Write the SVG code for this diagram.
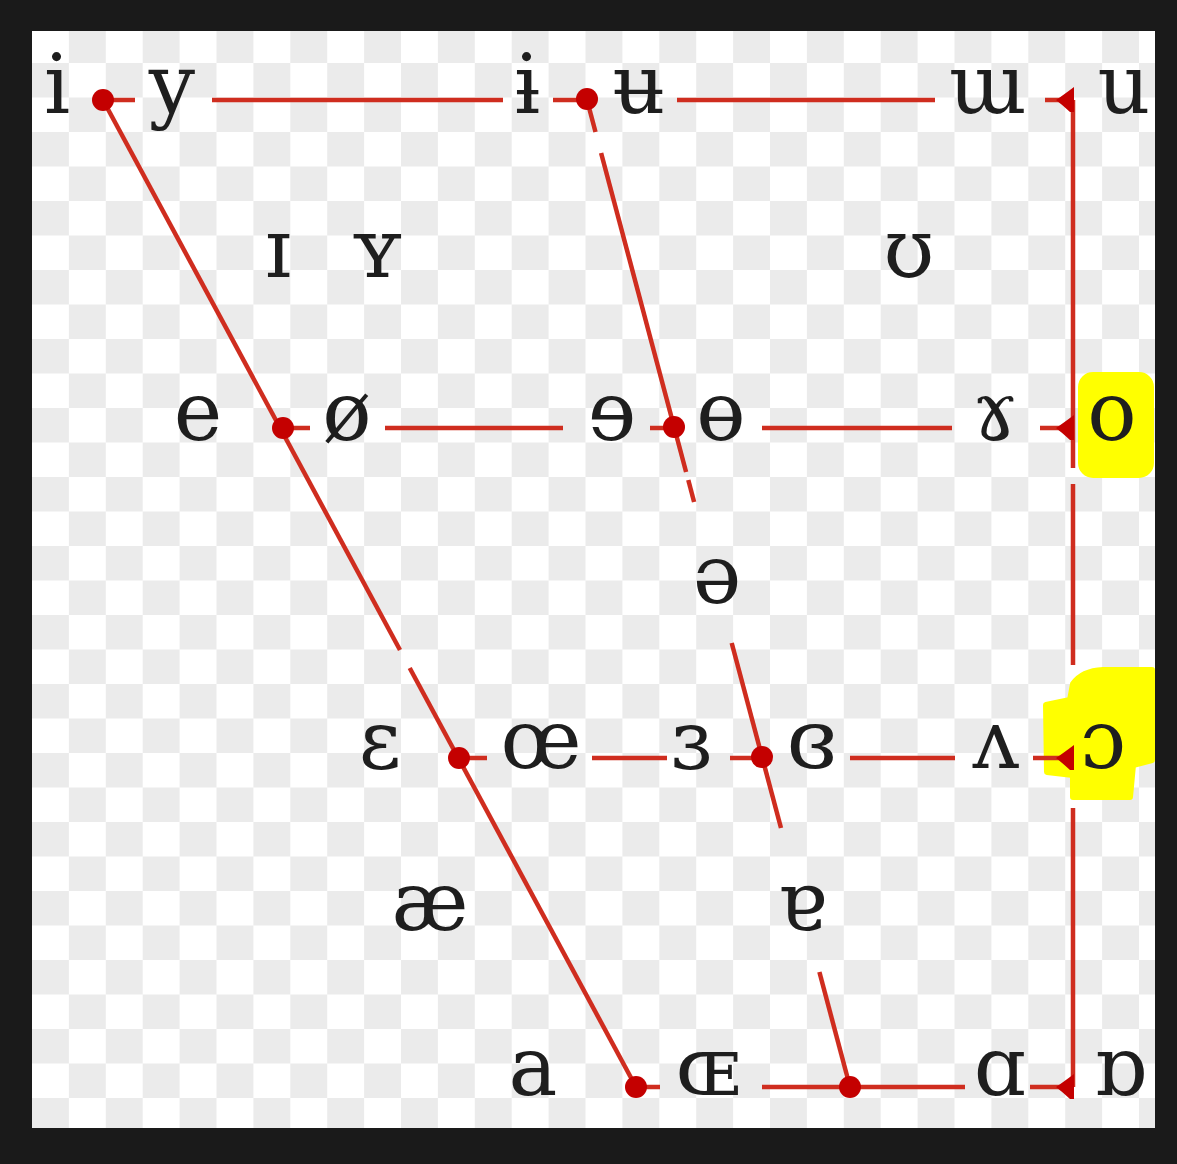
<svg xmlns="http://www.w3.org/2000/svg" width="1177" height="1164" viewBox="0 0 1177 1164">
<defs>
<pattern id="chk" patternUnits="userSpaceOnUse" x="32" y="-6" width="73.8" height="69">
<rect x="0" y="0" width="73.8" height="69" fill="#ffffff"/>
<rect x="0" y="0" width="36.9" height="34.5" fill="#ebebeb"/>
<rect x="36.9" y="34.5" width="36.9" height="34.5" fill="#ebebeb"/>
</pattern>
<style>
.v{font-family:"DejaVu Serif","Liberation Serif",serif;font-size:82px;fill:#1e1e1e;text-anchor:middle}
.ln{stroke:#cf2d1f;stroke-width:4.5;fill:none;stroke-linecap:butt}
.dot{fill:#c40000}
.hl{fill:#ffff00;stroke:#ffff00;stroke-width:6;stroke-linejoin:round}
</style>
</defs>
<rect x="0" y="0" width="1177" height="1164" fill="#1a1a1a"/>
<rect x="32" y="31" width="1123" height="1097" fill="url(#chk)"/>
<g id="highlights">
<rect class="hl" x="1081" y="375" width="70" height="100" rx="12"/>
<path class="hl" d="M1103,670 L1152,670 L1152,760 L1133,765 L1130,797 L1073,797 L1073,775 L1047,772 L1046,705 L1070,700 L1073,684 Q1082,671 1103,670 Z"/>
</g>
<g id="connectors">
<line class="ln" x1="103" y1="100" x2="135" y2="100"/>
<line class="ln" x1="212" y1="100" x2="503" y2="100"/>
<line class="ln" x1="553" y1="100" x2="587" y2="100"/>
<line class="ln" x1="677" y1="100" x2="935" y2="100"/>
<line class="ln" x1="1045" y1="100" x2="1073" y2="100"/>
<line class="ln" x1="283" y1="428" x2="310" y2="428"/>
<line class="ln" x1="385" y1="428" x2="563" y2="428"/>
<line class="ln" x1="650" y1="428" x2="674" y2="428"/>
<line class="ln" x1="762" y1="428" x2="952" y2="428"/>
<line class="ln" x1="1040" y1="428" x2="1073" y2="428"/>
<line class="ln" x1="459" y1="758" x2="487" y2="758"/>
<line class="ln" x1="592" y1="758" x2="667" y2="758"/>
<line class="ln" x1="730" y1="758" x2="762" y2="758"/>
<line class="ln" x1="850" y1="758" x2="955" y2="758"/>
<line class="ln" x1="1033" y1="758" x2="1073" y2="758"/>
<line class="ln" x1="636" y1="1087" x2="660" y2="1087"/>
<line class="ln" x1="762" y1="1087" x2="965" y2="1087"/>
<line class="ln" x1="1030" y1="1087" x2="1073" y2="1087"/>
<line class="ln" x1="103" y1="100" x2="400" y2="650"/>
<line class="ln" x1="409.7" y1="668" x2="636" y2="1087"/>
<line class="ln" x1="587" y1="100" x2="595.5" y2="132"/>
<line class="ln" x1="601.1" y1="153" x2="686.1" y2="472"/>
<line class="ln" x1="688.3" y1="480" x2="694.1" y2="502"/>
<line class="ln" x1="731.7" y1="643" x2="781" y2="828"/>
<line class="ln" x1="819.4" y1="972" x2="850" y2="1087"/>
<line class="ln" x1="1073" y1="100" x2="1073" y2="468"/>
<line class="ln" x1="1073" y1="484" x2="1073" y2="665"/>
<line class="ln" x1="1073" y1="808" x2="1073" y2="1087"/>
<circle class="dot" cx="103" cy="100" r="11"/>
<circle class="dot" cx="587" cy="99" r="11"/>
<path class="dot" d="M1074,87 L1074,112 L1070,112 Q1060,103 1056,100 Q1062,96 1074,87 Z"/>
<circle class="dot" cx="283" cy="428" r="11"/>
<circle class="dot" cx="674" cy="427" r="11"/>
<path class="dot" d="M1074,415 L1074,440 L1070,440 Q1060,431 1056,428 Q1062,424 1074,415 Z"/>
<circle class="dot" cx="459" cy="758" r="11"/>
<circle class="dot" cx="762" cy="757" r="11"/>
<path class="dot" d="M1074,745 L1074,770 L1070,770 Q1060,761 1056,758 Q1062,754 1074,745 Z"/>
<circle class="dot" cx="636" cy="1087" r="11"/>
<circle class="dot" cx="850" cy="1087" r="11"/>
<path class="dot" d="M1074,1074 L1074,1099 L1070,1099 Q1060,1090 1056,1087 Q1062,1083 1074,1074 Z"/>
</g>
<g id="row-close">
<text id="v-i" class="v" x="57" y="113">i</text>
<text id="v-y" class="v" x="172" y="113">y</text>
<text id="v-barred-i" class="v" x="527" y="113">ɨ</text>
<text id="v-barred-u" class="v" x="639" y="113">ʉ</text>
<text id="v-turned-m" class="v" x="988" y="113">ɯ</text>
<text id="v-u" class="v" x="1124" y="113">u</text>
</g>
<g id="row-near-close">
<text id="v-small-i" class="v" x="278" y="277">ɪ</text>
<text id="v-small-y" class="v" x="377" y="277">ʏ</text>
<text id="v-upsilon" class="v" x="909" y="277">ʊ</text>
</g>
<g id="row-close-mid">
<text id="v-e" class="v" x="198" y="440">e</text>
<text id="v-oslash" class="v" x="347" y="440">ø</text>
<text id="v-rev-e" class="v" x="612" y="440">ɘ</text>
<text id="v-barred-o" class="v" x="721" y="440">ɵ</text>
<text id="v-rams-horn" class="v" x="995" y="440">ɤ</text>
<text id="v-o" class="v" x="1112" y="440">o</text>
</g>
<g id="row-mid">
<text id="v-schwa" class="v" x="717" y="603">ə</text>
</g>
<g id="row-open-mid">
<text id="v-epsilon" class="v" x="380" y="768">ɛ</text>
<text id="v-oe" class="v" x="541" y="768">œ</text>
<text id="v-rev-epsilon" class="v" x="691" y="768">ɜ</text>
<text id="v-closed-rev-epsilon" class="v" x="812" y="768">ɞ</text>
<text id="v-turned-v" class="v" x="996" y="768">ʌ</text>
<text id="v-open-o" class="v" x="1103" y="768">ɔ</text>
</g>
<g id="row-near-open">
<text id="v-ash" class="v" x="430" y="930">æ</text>
<text id="v-turned-a" class="v" x="802" y="930">ɐ</text>
</g>
<g id="row-open">
<text id="v-a" class="v" x="533" y="1095">a</text>
<text id="v-small-oe" class="v" x="708" y="1095">ɶ</text>
<text id="v-alpha" class="v" x="1000" y="1095">ɑ</text>
<text id="v-turned-alpha" class="v" x="1120" y="1095">ɒ</text>
</g>
</svg>
